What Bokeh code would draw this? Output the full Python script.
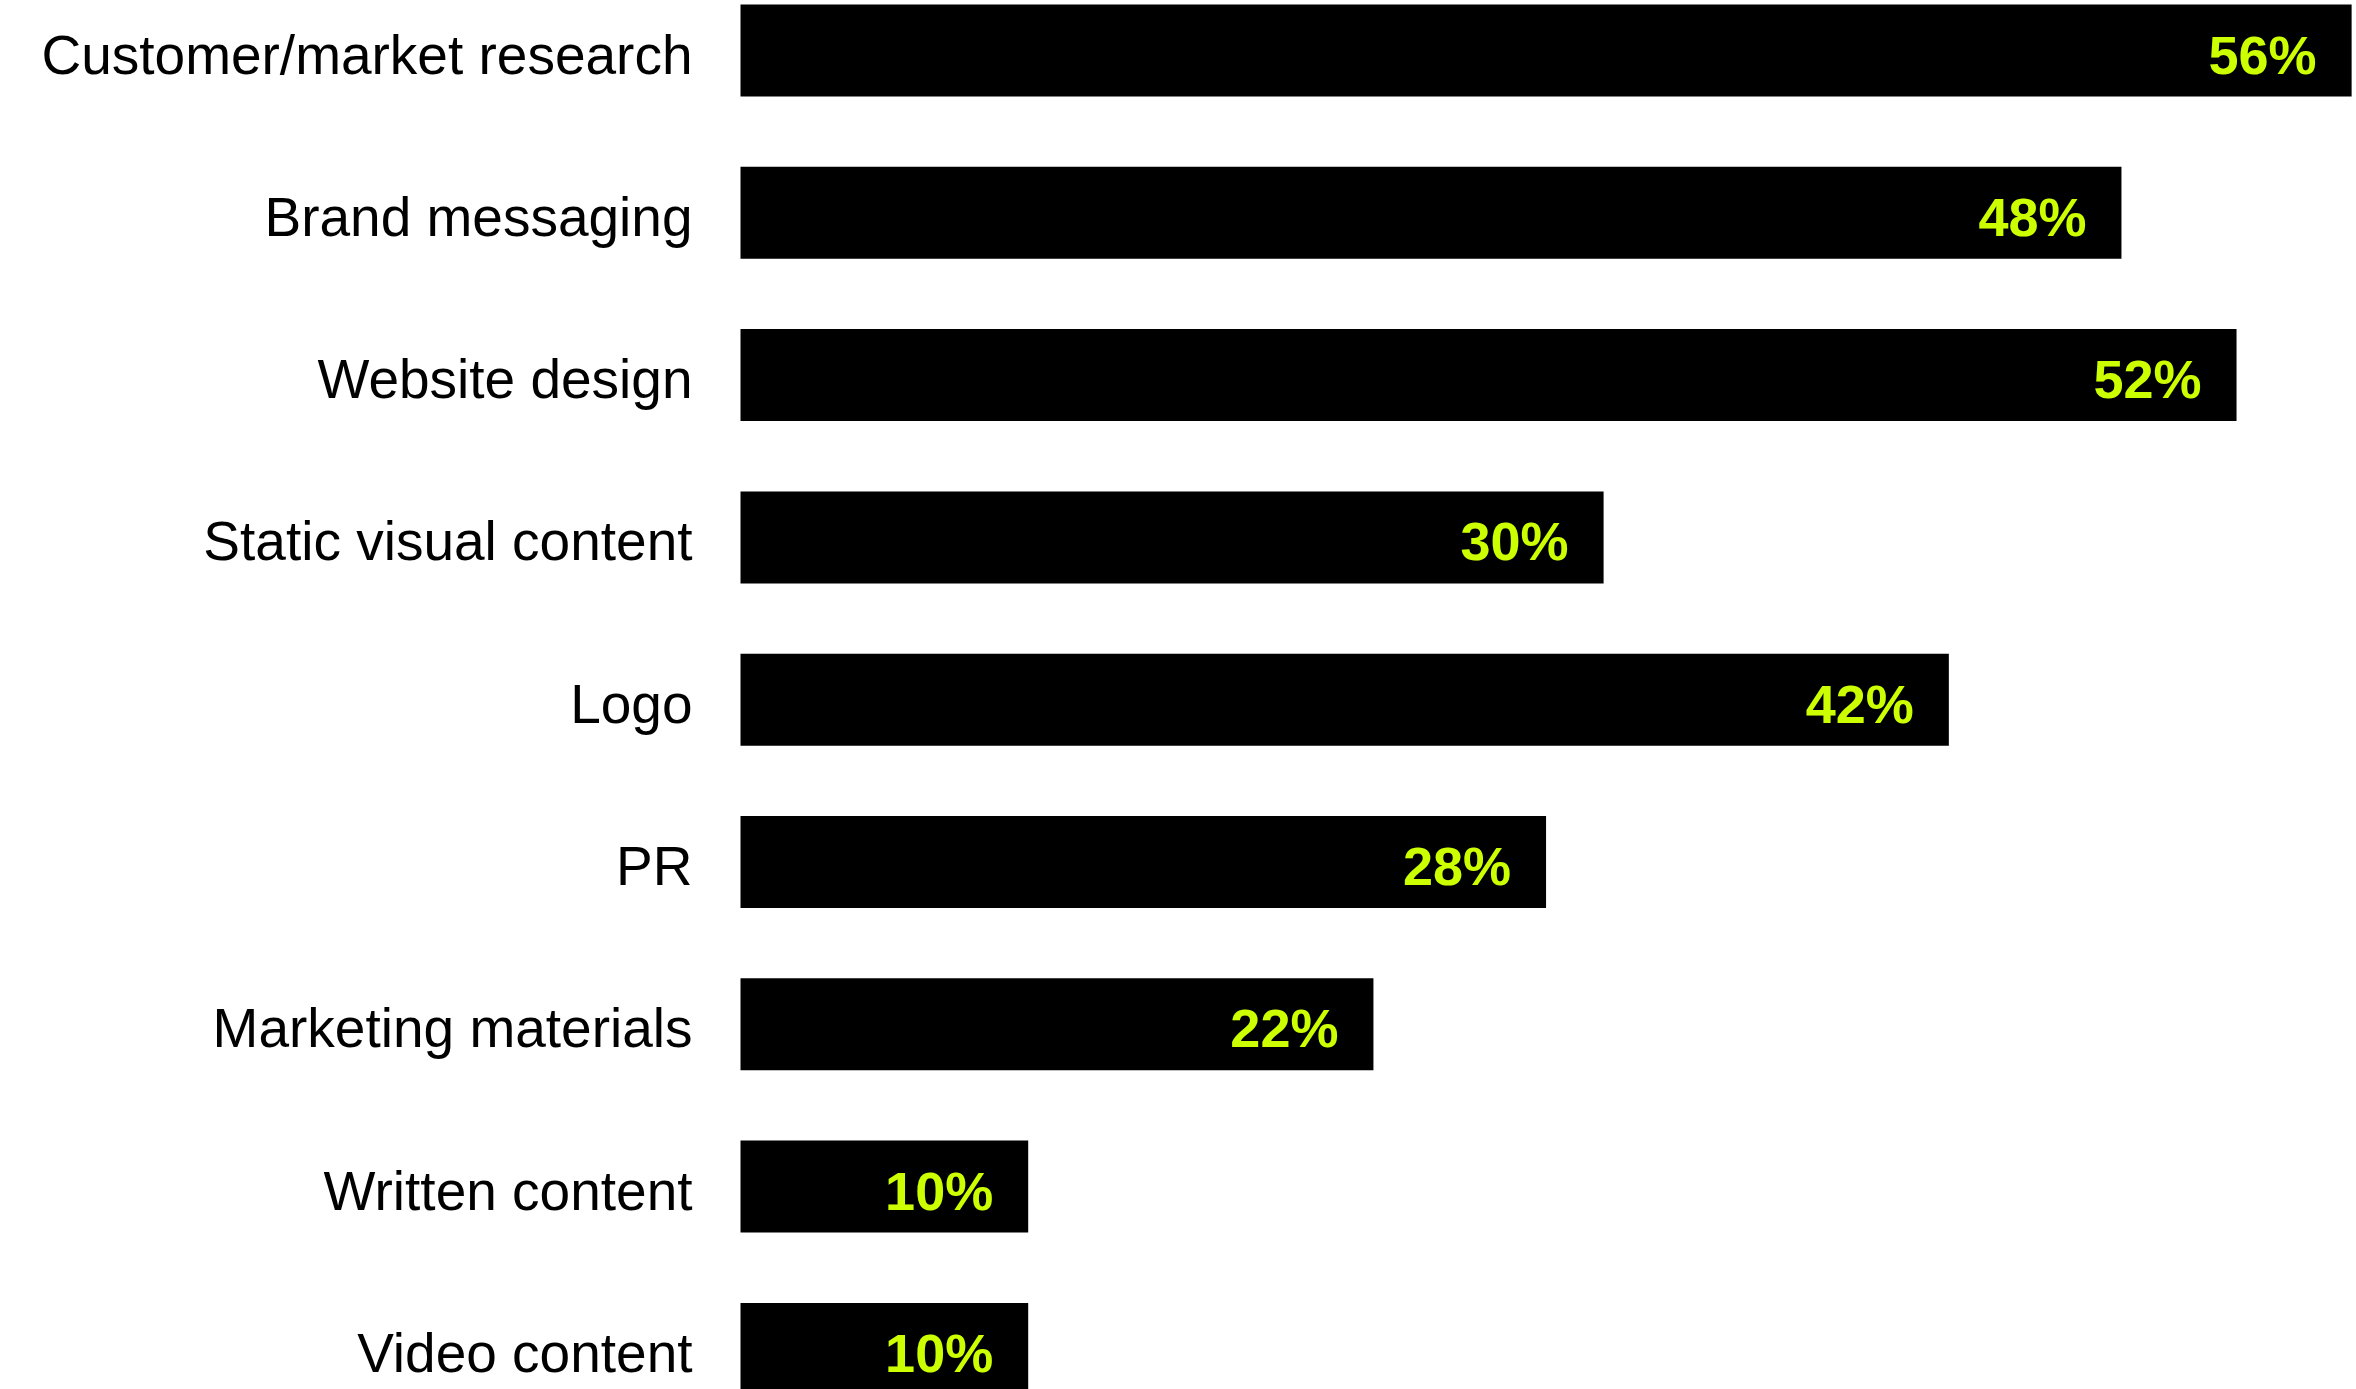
from bokeh.plotting import figure
from bokeh.models import ColumnDataSource, Range1d
from bokeh.core.properties import value
from bokeh.embed import file_html
from bokeh.resources import INLINE

categories = [
    "Customer/market research",
    "Brand messaging",
    "Website design",
    "Static visual content",
    "Logo",
    "PR",
    "Marketing materials",
    "Written content",
    "Video content",
]
values = [56, 48, 52, 30, 42, 28, 22, 10, 10]
labels = [f"{v}%" for v in values]

W, H = 2356, 1389
bar_left_px = 740
px_per_unit = 28.77
row_px = 162.3
first_center_px = 50
bar_px = 92

src = ColumnDataSource(dict(
    idx=list(range(len(categories))),
    cat=categories,
    val=values,
    lab=labels,
))

p = figure(
    width=W, height=H,
    output_backend="svg", toolbar_location=None,
    x_axis_type=None, y_axis_type=None,
    x_range=Range1d(-bar_left_px / px_per_unit, (W - bar_left_px) / px_per_unit),
    y_range=Range1d((H - first_center_px) / row_px, -first_center_px / row_px),
    min_border=0,
)
p.outline_line_color = None
p.background_fill_color = "white"
p.border_fill_color = "white"
p.xgrid.visible = False
p.ygrid.visible = False

p.hbar(y="idx", left=0, right="val", height=bar_px / row_px, source=src,
       fill_color="black", line_color=None)

p.text(x="val", y="idx", text="lab", source=src,
       x_offset=-35, y_offset=4,
       text_align="right", text_baseline="middle",
       text_color="#ccff00", text_font=value("Liberation Sans"),
       text_font_style="bold", text_font_size="54px")

p.text(x=0, y="idx", text="cat", source=src,
       x_offset=-48, y_offset=4,
       text_align="right", text_baseline="middle",
       text_color="black", text_font=value("Liberation Sans"),
       text_font_size="55px")

open("out.html", "w").write(file_html(p, INLINE))
